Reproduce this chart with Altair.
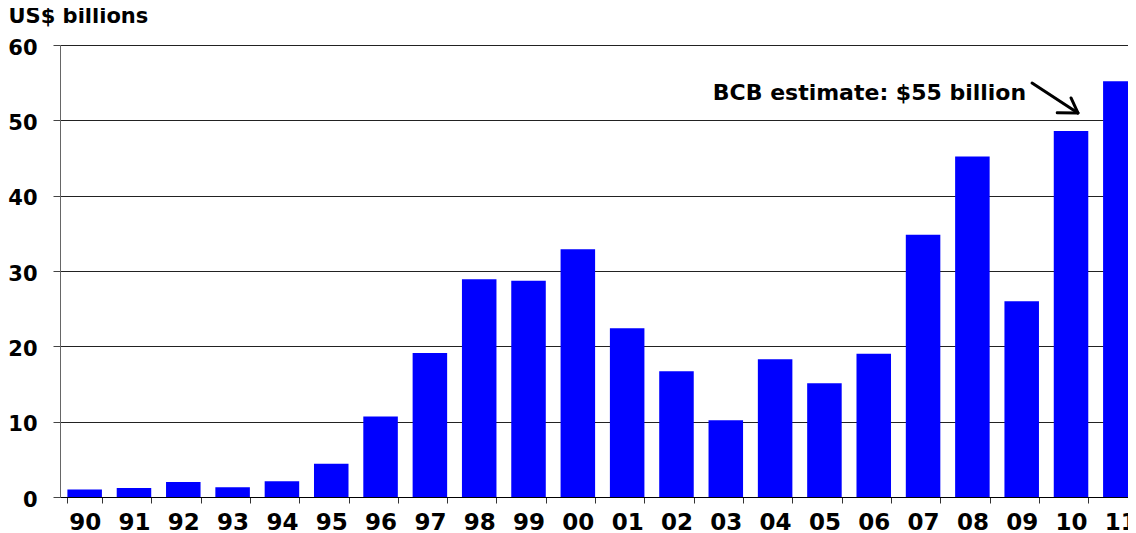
import altair as alt
import pandas as pd

# ---- data ----
years = ["90", "91", "92", "93", "94", "95", "96", "97", "98", "99", "00",
         "01", "02", "03", "04", "05", "06", "07", "08", "09", "10", "11"]
values = [1.0, 1.2, 2.0, 1.3, 2.1, 4.4, 10.7, 19.1, 28.9, 28.7, 32.9,
          22.4, 16.7, 10.2, 18.3, 15.1, 19.0, 34.8, 45.2, 26.0, 48.6, 55.2]
y_ticks = [0, 10, 20, 30, 40, 50, 60]

annotation_text = ["BCB estimate: $55 billion"]
annotation_x = [19.59]       # in category-index units
annotation_y = [52.7]        # US$ billions

# arrow segments (category-index units, US$ billions)
arrow_x = [19.71, 20.64, 20.64]
arrow_y = [54.96, 50.98, 50.98]
arrow_x2 = [20.64, 20.50, 20.22]
arrow_y2 = [50.98, 52.97, 51.0]

FONT = "DejaVu Sans"
RANGE = [0, 1085]

df = pd.DataFrame({"year": years, "value": values})
ann = pd.DataFrame({"t": annotation_text, "x": annotation_x, "y": annotation_y})
arr = pd.DataFrame({"x": arrow_x, "y": arrow_y, "x2": arrow_x2, "y2": arrow_y2})

y_scale = alt.Scale(domain=[0, 60], nice=False, zero=True)

bars = alt.Chart(df).mark_bar(color="#0000FF").encode(
    x=alt.X(
        "year:N",
        sort=years,
        scale=alt.Scale(range=RANGE, paddingInner=0.3, paddingOuter=0.15),
        axis=alt.Axis(
            title=None,
            labelAngle=0,
            tickBand="extent",
            tickSize=6,
            tickColor="#333333",
            domainColor="#000000",
            labelFont=FONT,
            labelFontWeight="bold",
            labelFontSize=23,
            labelColor="#000000",
            labelPadding=8,
            grid=False,
        ),
    ),
    y=alt.Y(
        "value:Q",
        scale=y_scale,
        axis=alt.Axis(
            values=y_ticks,
            title="US$ billions",
            titleAngle=0,
            titleAlign="left",
            titleBaseline="alphabetic",
            titleX=-52,
            titleY=-22.3,
            titleFont=FONT,
            titleFontWeight="bold",
            titleFontSize=21,
            titleColor="#000000",
            grid=True,
            gridColor="#222222",
            gridWidth=1,
            domainColor="#666666",
            tickColor="#444444",
            tickSize=7,
            labelFont=FONT,
            labelFontWeight="bold",
            labelFontSize=21,
            labelColor="#000000",
            labelPadding=16,
            labelOffset=3,
        ),
    ),
)

xq = alt.Scale(domain=[0, 22], range=RANGE, nice=False, zero=False)

text = alt.Chart(ann).mark_text(
    align="right", baseline="alphabetic", font=FONT, fontWeight="bold",
    fontSize=22, color="#000000"
).encode(
    x=alt.X("x:Q", scale=xq, axis=None),
    y=alt.Y("y:Q", scale=y_scale),
    text="t:N",
)

arrow = alt.Chart(arr).mark_rule(color="#000000", strokeWidth=3, strokeCap="round").encode(
    x=alt.X("x:Q", scale=xq, axis=None),
    y=alt.Y("y:Q", scale=y_scale),
    x2="x2:Q",
    y2="y2:Q",
)

chart = alt.layer(bars, text, arrow).resolve_scale(x="independent").properties(
    width=1068,
    height=452,
    autosize=alt.AutoSizeParams(type="none"),
    padding={"left": 52, "top": 37, "right": 0, "bottom": 34},
).configure_view(stroke=None).configure(background="white")

chart.save("out.html", embed_options={"renderer": "svg", "actions": False})
